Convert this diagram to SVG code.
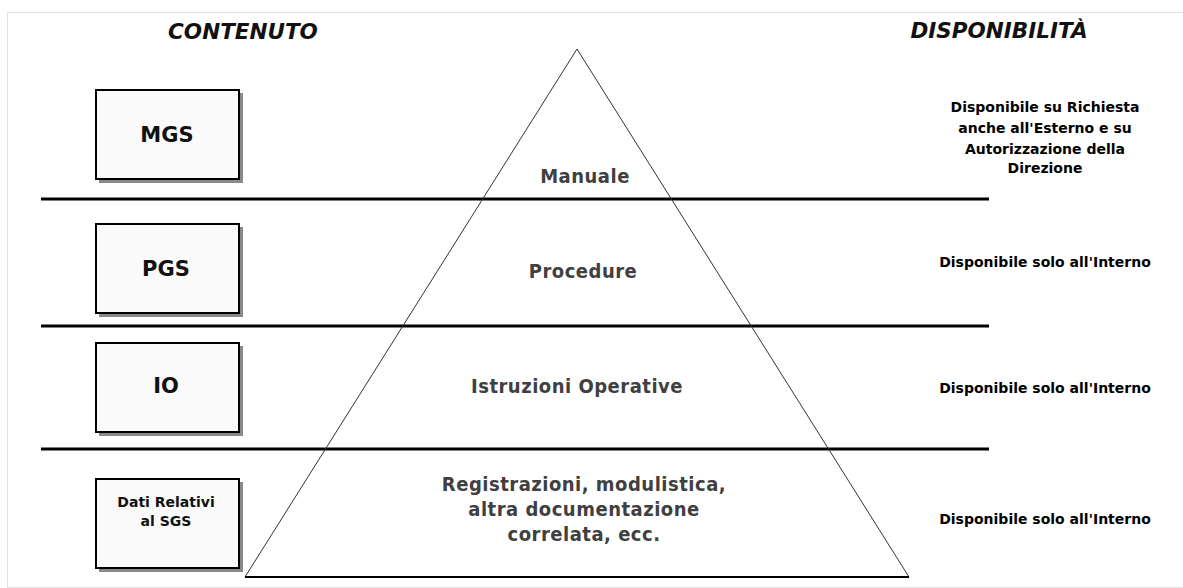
<svg xmlns="http://www.w3.org/2000/svg" width="1183" height="588" viewBox="0 0 1183 588">
  <style>
    .frame { fill: none; stroke: #e2e2e2; stroke-width: 1; }
    .head { font-family: "DejaVu Sans", Verdana, sans-serif; font-weight: bold; font-style: italic; font-size: 21.5px; fill: #111; text-anchor: middle; }
    .box { fill: #fafafa; stroke: #000; stroke-width: 2; }
    .shadow { fill: #8a8a8a; }
    .blabel { font-family: "DejaVu Sans", Verdana, sans-serif; font-weight: bold; font-size: 21px; fill: #111; text-anchor: middle; }
    .bsmall { font-family: "DejaVu Sans", Verdana, sans-serif; font-weight: bold; font-size: 14px; fill: #111; text-anchor: middle; }
    .ptext { font-family: "DejaVu Sans Condensed", "DejaVu Sans", sans-serif; font-weight: bold; font-size: 20px; fill: #404040; text-anchor: middle; letter-spacing: 0.5px; }
    .rtext { font-family: "DejaVu Sans", Verdana, sans-serif; font-weight: bold; font-size: 14px; fill: #000; text-anchor: middle; }
    .band { stroke: #000; stroke-width: 3; }
    .pyr { fill: none; stroke: #333; stroke-width: 1; }
    .base { stroke: #000; stroke-width: 2; }
  </style>

  <rect class="frame" x="7.5" y="12.5" width="1180" height="575"/>

  <text class="head" x="243" y="39">CONTENUTO</text>
  <text class="head" x="999" y="38">DISPONIBILITÀ</text>

  <g id="connectors">
    <line class="band" x1="41" y1="199" x2="989" y2="199"/>
    <line class="band" x1="41" y1="326" x2="989" y2="326"/>
    <line class="band" x1="41" y1="449" x2="989" y2="449"/>
    <polyline class="pyr" points="245,577 577,49 909,577"/>
    <line class="base" x1="245" y1="577" x2="909" y2="577"/>
  </g>

  <g id="node-mgs">
    <rect class="shadow" x="99" y="93" width="144" height="90"/>
    <rect class="box" x="96" y="90" width="143" height="89"/>
    <text class="blabel" x="167" y="142">MGS</text>
  </g>
  <g id="node-pgs">
    <rect class="shadow" x="99" y="227" width="144" height="90"/>
    <rect class="box" x="96" y="224" width="143" height="89"/>
    <text class="blabel" x="166" y="276">PGS</text>
  </g>
  <g id="node-io">
    <rect class="shadow" x="99" y="346" width="144" height="90"/>
    <rect class="box" x="96" y="343" width="143" height="89"/>
    <text class="blabel" x="166" y="393">IO</text>
  </g>
  <g id="node-dati">
    <rect class="shadow" x="99" y="482" width="144" height="90"/>
    <rect class="box" x="96" y="479" width="143" height="89"/>
    <text class="bsmall" x="166" y="507">Dati Relativi</text>
    <text class="bsmall" x="166" y="526">al SGS</text>
  </g>

  <g id="level-manuale">
    <text class="ptext" x="585" y="183">Manuale</text>
  </g>
  <g id="level-procedure">
    <text class="ptext" x="583" y="278">Procedure</text>
  </g>
  <g id="level-istruzioni">
    <text class="ptext" x="577" y="393">Istruzioni Operative</text>
  </g>
  <g id="level-registrazioni">
    <text class="ptext" x="584" y="491">Registrazioni, modulistica,</text>
    <text class="ptext" x="584" y="516">altra documentazione</text>
    <text class="ptext" x="584" y="541">correlata, ecc.</text>
  </g>

  <g id="avail-1">
    <text class="rtext" x="1045" y="112">Disponibile su Richiesta</text>
    <text class="rtext" x="1045" y="133">anche all'Esterno e su</text>
    <text class="rtext" x="1045" y="154">Autorizzazione della</text>
    <text class="rtext" x="1045" y="173">Direzione</text>
  </g>
  <g id="avail-2">
    <text class="rtext" x="1045" y="267">Disponibile solo all'Interno</text>
  </g>
  <g id="avail-3">
    <text class="rtext" x="1045" y="393">Disponibile solo all'Interno</text>
  </g>
  <g id="avail-4">
    <text class="rtext" x="1045" y="524">Disponibile solo all'Interno</text>
  </g>
</svg>
